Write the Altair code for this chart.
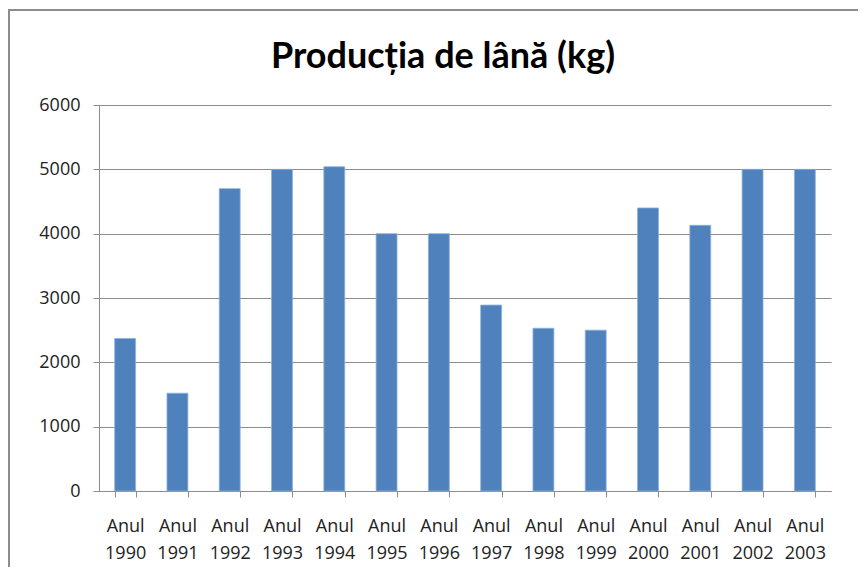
import altair as alt
import pandas as pd

years = ["1990", "1991", "1992", "1993", "1994", "1995", "1996",
         "1997", "1998", "1999", "2000", "2001", "2002", "2003"]
values = [2370, 1520, 4700, 5000, 5040, 4000, 4000,
          2890, 2530, 2500, 4400, 4130, 5000, 5000]
categories = ["Anul " + y for y in years]
y_ticks = [0, 1000, 2000, 3000, 4000, 5000, 6000]
title_text = "Producția de lână (kg)"

df = pd.DataFrame({"cat": categories, "val": values})

bars = alt.Chart(df).mark_bar(color="#4F81BD", stroke="#8DB0DA", strokeWidth=0.8).encode(
    x=alt.X("cat:N", sort=categories, title=None,
            scale=alt.Scale(paddingInner=0.6, paddingOuter=0.3),
            axis=alt.Axis(labelAngle=0, labelExpr="split(datum.label, ' ')",
                          labelFont="Open Sans", labelFontSize=18, labelColor="#222",
                          labelLineHeight=27, labelPadding=20, labelBaseline="top",
                          tickBand="extent", tickSize=6, tickColor="#8c8c8c",
                          domainColor="#8c8c8c", grid=False)),
    y=alt.Y("val:Q", title=None,
            scale=alt.Scale(domain=[0, 6000], nice=False),
            axis=alt.Axis(values=y_ticks, format="d", labelFont="Open Sans",
                          labelFontSize=18, labelColor="#222", labelPadding=13,
                          tickSize=6, tickColor="#8c8c8c", domainColor="#8c8c8c",
                          gridColor="#8c8c8c", gridWidth=1))
)

frame = alt.Chart(df).mark_rect(fill=None, stroke="#8c8c8c", strokeWidth=1.5).encode(
    x=alt.value(-90), x2=alt.value(900), y=alt.value(-95), y2=alt.value(600)
)

title = alt.Chart(pd.DataFrame({"t": [title_text]})).mark_text(
    font="Lato", fontSize=36, fontWeight="bold", color="#000",
    align="center", baseline="alphabetic"
).encode(text="t:N", x=alt.value(344), y=alt.value(-37))

chart = alt.layer(frame, bars, title).properties(
    width=732, height=386,
    autosize=alt.AutoSizeParams(type="none"),
    padding={"left": 91, "top": 97, "right": 27, "bottom": 76},
).configure_view(stroke=None)

chart.save("out.html", embed_options={"renderer": "svg", "actions": False})
